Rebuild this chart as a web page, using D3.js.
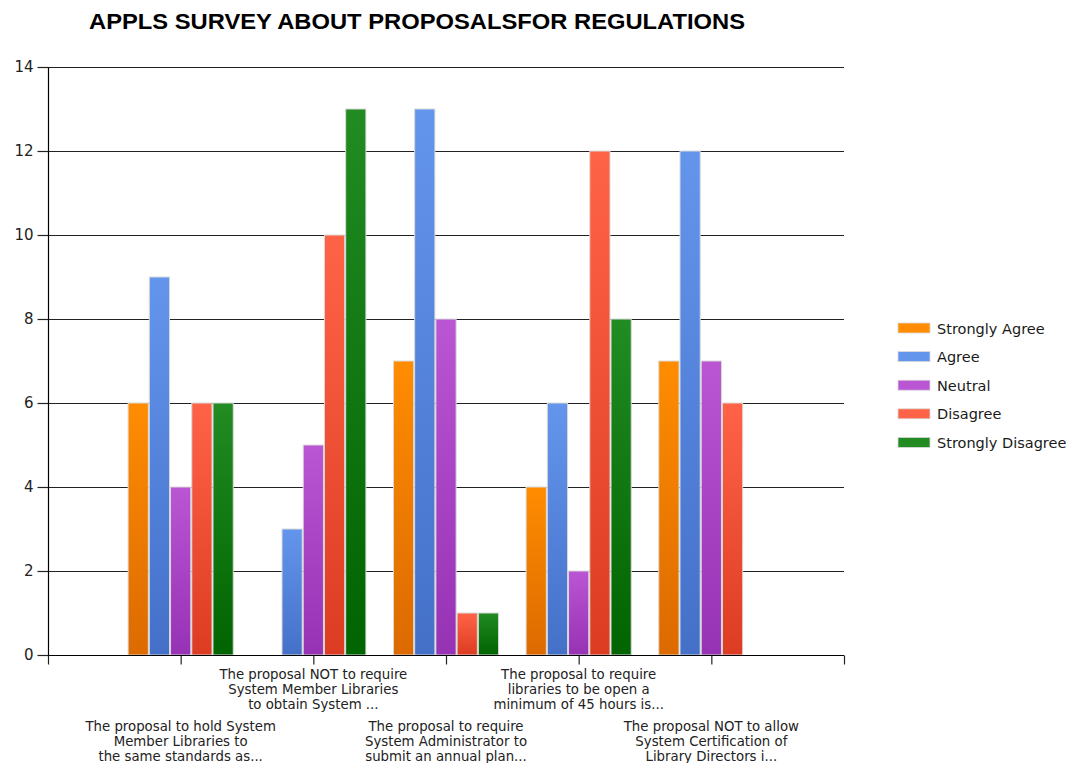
<!DOCTYPE html>
<html><head><meta charset="utf-8">
<script src="https://cdn.jsdelivr.net/npm/d3@7"></script>
<style>body{margin:0;background:#fff}</style>
</head><body>
<script>
const categories = [
  ["The proposal to hold System","Member Libraries to","the same standards as..."],
  ["The proposal NOT to require","System Member Libraries","to obtain System ..."],
  ["The proposal to require","System Administrator to","submit an annual plan..."],
  ["The proposal to require","libraries to be open a","minimum of 45 hours is..."],
  ["The proposal NOT to allow","System Certification of","Library Directors i..."]
];
const seriesNames = ["Strongly Agree","Agree","Neutral","Disagree","Strongly Disagree"];
const stronglyAgree = [6,0,7,4,7];
const agree = [9,3,13,6,12];
const neutral = [4,5,8,2,7];
const disagree = [6,10,1,12,6];
const stronglyDisagree = [6,13,1,8,0];
const seriesValues = [stronglyAgree, agree, neutral, disagree, stronglyDisagree];
const yTicks = [0,2,4,6,8,10,12,14];
const title = "APPLS SURVEY ABOUT PROPOSALSFOR REGULATIONS";
const colorsTop = ["#ff8c00","#6495ed","#ba55d3","#ff6347","#228b22"];
const colorsBottom = ["#dc6a00","#4470c8","#9632b4","#dc3c22","#006400"];

const W = 1068, H = 763;
const svg = d3.select("body").append("svg").attr("width", W).attr("height", H);
const defs = svg.append("defs");
seriesNames.forEach((s,i)=>{
  const g = defs.append("linearGradient").attr("id","g"+i).attr("x1",0).attr("y1",0).attr("x2",0).attr("y2",1);
  g.append("stop").attr("offset","0%").attr("stop-color",colorsTop[i]);
  g.append("stop").attr("offset","100%").attr("stop-color",colorsBottom[i]);
});

const x = d3.scaleLinear().domain([0,6]).range([48,844]);
const y = d3.scaleLinear().domain([0,14]).range([655,67]);
const unit = x(1)-x(0);
const band = d3.scaleBand().domain(seriesNames).range([-0.4*unit,0.4*unit]).padding(0);

// title
svg.append("text").attr("x",89).attr("y",28.5).attr("font-family","Liberation Sans, Arial, sans-serif")
  .attr("font-weight","bold").attr("font-size",21.5).attr("fill","#000")
  .attr("textLength",656).attr("lengthAdjust","spacingAndGlyphs").text(title);

// gridlines
svg.append("g").selectAll("line").data(yTicks.filter(d=>d>0)).join("line")
  .attr("x1",x(0)).attr("x2",x(6)).attr("y1",d=>y(d)+0.5).attr("y2",d=>y(d)+0.5)
  .attr("stroke","#222").attr("stroke-width",1.2);

// y axis
const yAxis = svg.append("g").attr("transform",`translate(${x(0)+0.5},0)`)
  .call(d3.axisLeft(y).tickValues(yTicks).tickSize(11).tickPadding(4).tickFormat(d3.format("d")));
yAxis.select(".domain").attr("stroke","#000").attr("stroke-width",1.2).attr("d",`M0,${y(14)}V${y(0)}`);
yAxis.selectAll(".tick line").attr("stroke","#222").attr("stroke-width",1.2);
yAxis.selectAll("text").attr("font-family","DejaVu Sans, sans-serif").attr("font-size",15).attr("fill","#222");

// bars
const groups = svg.append("g").selectAll("g").data(categories).join("g")
  .attr("transform",(d,i)=>`translate(${x(i+1)},0)`);
groups.selectAll("rect").data((d,ci)=>seriesNames.map((s,si)=>({s,si,v:seriesValues[si][ci]})).filter(e=>e.v>0))
  .join("rect")
  .attr("x",d=>band(d.s)+0.5).attr("width",band.bandwidth()-1)
  .attr("y",d=>y(d.v)).attr("height",d=>y(0)-y(d.v))
  .attr("fill",d=>`url(#g${d.si})`).attr("stroke","#d9d9d9").attr("stroke-width",1);

// x axis
const xAxis = svg.append("g").attr("transform",`translate(0,${y(0)+0.5})`)
  .call(d3.axisBottom(x).tickValues([0,1,2,3,4,5,6]).tickSize(9).tickFormat(""));
xAxis.select(".domain").attr("stroke","#000").attr("stroke-width",1.2).attr("d",`M${x(0)},0H${x(6)}`);
xAxis.selectAll(".tick line").attr("stroke","#222").attr("stroke-width",1.2);

// category labels
const lab = svg.append("g");
categories.forEach((lines,i)=>{
  const y0 = (i%2===0) ? 731 : 679;
  const t = lab.append("text").attr("x",x(i+1)).attr("text-anchor","middle")
    .attr("font-family","DejaVu Sans, sans-serif").attr("font-size",13.3).attr("fill","#222");
  lines.forEach((l,j)=>t.append("tspan").attr("x",x(i+1)).attr("y",y0+j*15).text(l));
});

// legend
const lg = svg.append("g").selectAll("g").data(seriesNames).join("g")
  .attr("transform",(d,i)=>`translate(898,${323+i*28.6})`);
lg.append("rect").attr("width",32).attr("height",10).attr("fill",(d,i)=>colorsTop[i])
  .attr("stroke","#d9d9d9").attr("stroke-width",0.8);
lg.append("text").attr("x",39).attr("y",10.5).attr("font-family","DejaVu Sans, sans-serif")
  .attr("font-size",14.5).attr("fill","#1a1a1a").text(d=>d);
</script>
</body></html>
